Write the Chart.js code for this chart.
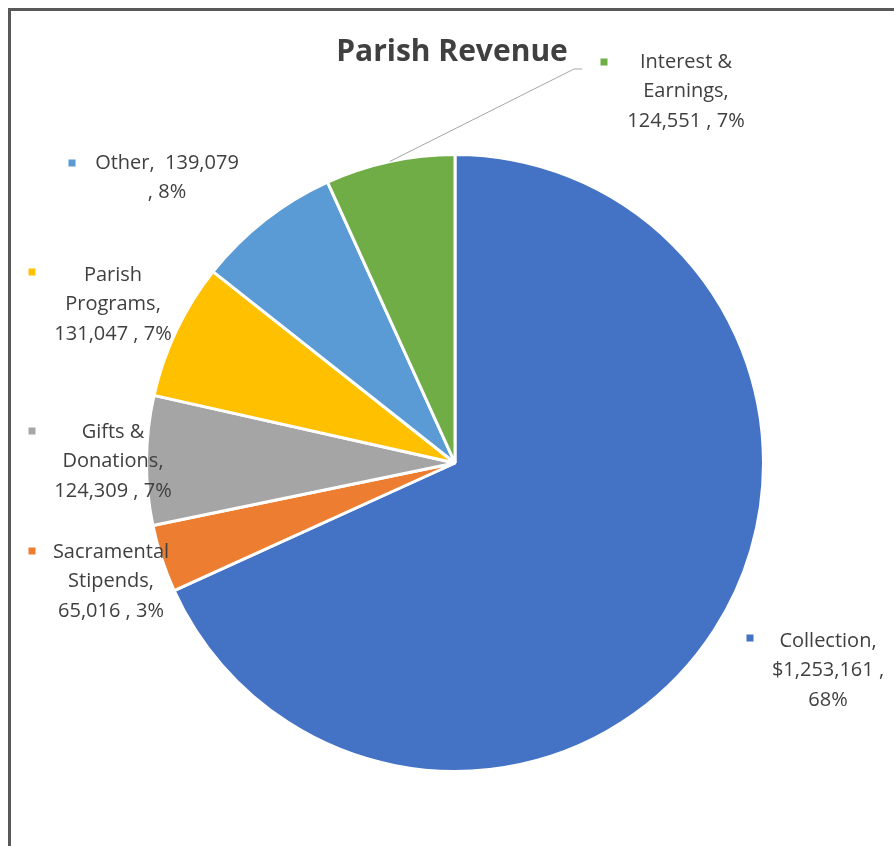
<!DOCTYPE html>
<html>
<head>
<meta charset="utf-8">
<script src="https://cdn.jsdelivr.net/npm/chart.js@4"></script>
<style>
  html, body { margin: 0; padding: 0; background: #ffffff; }
  #wrap { width: 894px; height: 846px; position: relative; }
</style>
</head>
<body>
<div id="wrap"><canvas id="c" width="894" height="846"></canvas></div>
<script>
const chartTitle = "Parish Revenue";
const categories = ["Collection", "Sacramental Stipends", "Gifts & Donations", "Parish Programs", "Other", "Interest & Earnings"];
const revenue = [1253161, 65016, 124309, 131047, 139079, 124551];
const sliceColors = ["#4472C4", "#ED7D31", "#A5A5A5", "#FFC000", "#5B9BD5", "#70AD47"];
const labelLines = [
  ["Collection,", "$1,253,161 ,", "68%"],
  ["Sacramental", "Stipends,", "65,016 , 3%"],
  ["Gifts &", "Donations,", "124,309 , 7%"],
  ["Parish", "Programs,", "131,047 , 7%"],
  ["Other,  139,079", ", 8%"],
  ["Interest &", "Earnings,", "124,551 , 7%"]
];

// label layout (text centre x, first line y, marker x, marker y)
const labelLayout = [
  {tx: 828, ty: 641, mx: 750, my: 638},
  {tx: 111, ty: 552, mx: 32, my: 551},
  {tx: 113, ty: 432, mx: 32, my: 431},
  {tx: 113, ty: 275, mx: 32, my: 272},
  {tx: 167, ty: 163, mx: 72, my: 163},
  {tx: 686, ty: 62, mx: 604, my: 62}
];

const decor = {
  id: 'decor',
  afterDraw(chart) {
    const ctx = chart.ctx;
    ctx.save();
    // frame
    ctx.strokeStyle = '#595959';
    ctx.lineWidth = 3;
    ctx.strokeRect(9.5, 9.5, 1000, 1000);
    // title
    ctx.fillStyle = '#404040';
    ctx.font = 'bold 30px "Open Sans"';
    ctx.textAlign = 'center';
    ctx.textBaseline = 'middle';
    ctx.fillText(chartTitle, 452, 52);
    // leader line for Interest & Earnings
    const meta = chart.getDatasetMeta(0);
    const arc = meta.data[5];
    const mid = (arc.startAngle + arc.endAngle) / 2;
    const sx = arc.x + Math.cos(mid) * arc.outerRadius;
    const sy = arc.y + Math.sin(mid) * arc.outerRadius;
    ctx.strokeStyle = '#A6A6A6';
    ctx.lineWidth = 1;
    ctx.beginPath();
    ctx.moveTo(sx, sy);
    ctx.lineTo(574, 69);
    ctx.lineTo(582, 69);
    ctx.stroke();
    // labels
    ctx.font = '20px "Open Sans"';
    labelLines.forEach((lines, i) => {
      const L = labelLayout[i];
      ctx.fillStyle = sliceColors[i];
      ctx.fillRect(L.mx - 3.5, L.my - 3.5, 7, 7);
      ctx.fillStyle = '#404040';
      lines.forEach((t, j) => {
        ctx.fillText(t, L.tx, L.ty + j * 29.5);
      });
    });
    ctx.restore();
  }
};

new Chart(document.getElementById('c'), {
  type: 'pie',
  data: {
    labels: categories,
    datasets: [{
      data: revenue,
      backgroundColor: sliceColors,
      borderColor: '#ffffff',
      borderWidth: 3
    }]
  },
  options: {
    responsive: false,
    animation: false,
    layout: { padding: { left: 145, right: 129, top: 153, bottom: 73 } },
    plugins: {
      legend: { display: false },
      tooltip: { enabled: false },
      title: { display: false }
    }
  },
  plugins: [decor]
});
</script>
</body>
</html>
